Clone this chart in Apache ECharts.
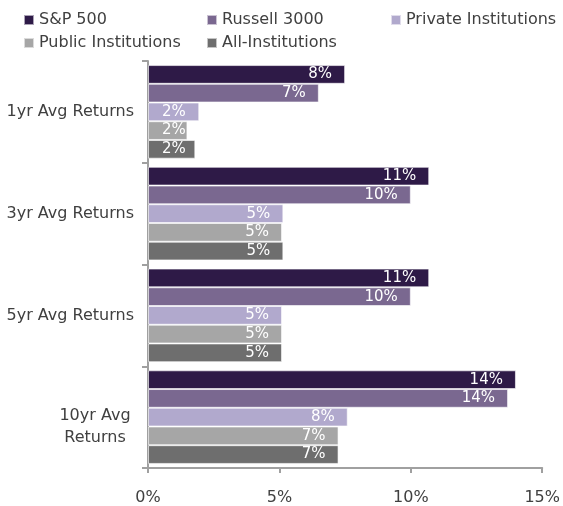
<!DOCTYPE html>
<html>
<head>
<meta charset="utf-8">
<script src="https://cdn.jsdelivr.net/npm/echarts@6/dist/echarts.min.js"></script>
<style>
  html, body { margin: 0; padding: 0; background: #fff; }
  #chart { width: 563px; height: 506px; }
</style>
</head>
<body>
<div id="chart"></div>
<script>
// periods (top to bottom)
const categories = ['1yr Avg Returns', '3yr Avg Returns', '5yr Avg Returns', '10yr Avg\nReturns']

// series names and colours
const seriesNames = ['S&P 500', 'Russell 3000', 'Private Institutions', 'Public Institutions', 'All-Institutions']
const seriesColors = ['#2e1a47', '#7a6890', '#b1a9cd', '#a6a6a6', '#6e6e6e']

// average returns in %
const sp500 = [7.5, 10.7, 10.7, 14.0]
const russell3000 = [6.5, 10.0, 10.0, 13.7]
const privateInst = [1.95, 5.15, 5.1, 7.6]
const publicInst = [1.5, 5.1, 5.1, 7.25]
const allInst = [1.8, 5.15, 5.1, 7.25]

const xTicks = [0, 5, 10, 15]

const chart = echarts.init(document.getElementById('chart'))

const textColor = '#404040'
const fontFamily = 'DejaVu Sans'

function mkSeries(i, values) {
  return {
    name: seriesNames[i],
    type: 'bar',
    // short bars get their label pinned near the bar start
    data: values.map(v => v < 3
      ? { value: v, label: { position: 'insideLeft', distance: 14 } }
      : v),
    barGap: '0%',
    barCategoryGap: '8%',
    itemStyle: {
      color: seriesColors[i],
      borderColor: 'rgba(255,255,255,0.6)',
      borderWidth: 1
    },
    label: {
      show: true,
      position: 'insideRight',
      distance: 13,
      color: '#fff',
      fontSize: 15,
      fontFamily: fontFamily,
      formatter: p => Math.round(p.value) + '%'
    }
  }
}

// legend laid out as a 3-column grid, one legend per item
const legendPos = [[23, 12], [206, 12], [390, 12], [23, 35], [206, 35]]
const legends = seriesNames.map((name, i) => ({
  data: [name],
  left: legendPos[i][0],
  top: legendPos[i][1],
  padding: 0,
  itemWidth: 10,
  itemHeight: 10,
  itemGap: 0,
  icon: 'rect',
  selectedMode: false,
  textStyle: { color: textColor, fontSize: 16, fontFamily: fontFamily }
}))

const option = {
  backgroundColor: '#fff',
  animation: false,
  legend: legends,
  grid: {
    left: 148,
    right: 16,
    top: 61,
    bottom: 36
  },
  xAxis: {
    type: 'value',
    min: xTicks[0],
    max: xTicks[xTicks.length - 1],
    interval: 5,
    splitLine: { show: false },
    axisLine: { show: true, lineStyle: { color: '#a0a0a0', width: 2 } },
    axisTick: { show: true, length: 5, lineStyle: { color: '#a0a0a0', width: 2 } },
    axisLabel: {
      color: textColor,
      fontSize: 16,
      fontFamily: fontFamily,
      margin: 22,
      formatter: v => v + '%'
    }
  },
  yAxis: {
    type: 'category',
    // two-line labels sit a little lower, as in the source
    data: categories.map(c => c.indexOf('\n') < 0
      ? c
      : { value: c, textStyle: { padding: [20, 0, 0, 0] } }),
    inverse: true,
    axisLine: { show: true, lineStyle: { color: '#a0a0a0', width: 2 } },
    axisTick: { show: true, length: 6, lineStyle: { color: '#a0a0a0', width: 2 } },
    axisLabel: {
      color: textColor,
      fontSize: 16,
      fontFamily: fontFamily,
      margin: 14,
      formatter: v => {
        if (v.indexOf('\n') < 0) return v
        return v.split('\n').map(s => '{c|' + s + '}').join('\n')
      },
      rich: {
        c: { width: 78, align: 'center', fontSize: 16, fontFamily: fontFamily, color: textColor, lineHeight: 22 }
      }
    }
  },
  series: [
    mkSeries(0, sp500),
    mkSeries(1, russell3000),
    mkSeries(2, privateInst),
    mkSeries(3, publicInst),
    mkSeries(4, allInst)
  ]
}

chart.setOption(option)
</script>
</body>
</html>
